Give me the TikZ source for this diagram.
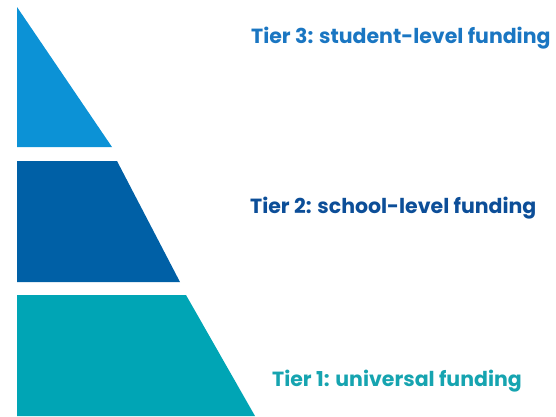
\documentclass[tikz,border=0pt]{standalone}
\usepackage{fontspec}
\setmainfont{Poppins}
\usepackage{xcolor}
\definecolor{tierthree}{RGB}{12,146,214}
\definecolor{tiertwo}{RGB}{0,96,166}
\definecolor{tierone}{RGB}{0,165,181}
\definecolor{tierthreetext}{RGB}{26,118,194}
\definecolor{tiertwotext}{RGB}{12,78,152}
\definecolor{tieronetext}{RGB}{22,164,176}
\tikzset{
    tierlabel/.style={
        anchor=base west,
        inner sep=0pt,
        font=\fontsize{20.5}{24}\selectfont\bfseries
    }
}
\begin{document}
\begin{tikzpicture}[x=1pt, y=-1pt]
    \useasboundingbox (0, 0) rectangle (556, 416);
    % Tier 3, a triangle
    \fill[tierthree] (17, 7) -- (17, 147) -- (112, 147) -- cycle;
    % Tier 2, a trapeze
    \fill[tiertwo] (17, 161) -- (17, 282) -- (180, 282) -- (117, 161) -- cycle;
    % Tier 1, a trapeze
    \fill[tierone] (17, 295) -- (17, 416) -- (255, 416) -- (186, 295) -- cycle;

    % Labels on the right
    \node[tierlabel, text=tierthreetext] (tier3) at (251, 43)
      {Tier 3: student-level funding};
    \node[tierlabel, text=tiertwotext] (tier2) at (250, 213)
      {Tier 2: school-level funding};
    \node[tierlabel, text=tieronetext] (tier1) at (272, 386)
      {Tier 1: universal funding};
\end{tikzpicture}
\end{document}
